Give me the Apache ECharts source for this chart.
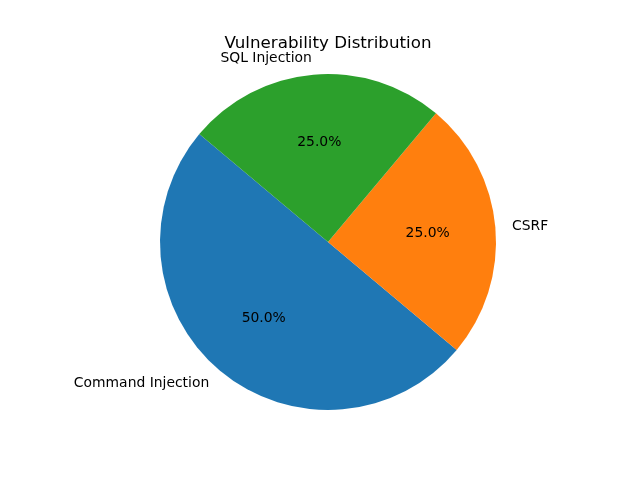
<!DOCTYPE html>
<html>
<head>
<meta charset="utf-8">
<script src="https://cdn.jsdelivr.net/npm/echarts@6/dist/echarts.min.js"></script>
<style>
    html,body{margin:0;padding:0;background:#fff;}
    #chart{width:640px;height:480px;}
</style>
</head>
<body>
<div id="chart"></div>
<script>
    // data
    var categories = ['Command Injection', 'CSRF', 'SQL Injection'];
    var values = [2, 1, 1];
    var colors = ['#1f77b4', '#ff7f0e', '#2ca02c'];

    var cx = 328, cy = 242, r = 168;
    var font = 'DejaVu Sans';

    var pieData = [];
    for (var i = 0; i < categories.length; i++) {
        pieData.push({name: categories[i], value: values[i], itemStyle: {color: colors[i]}});
    }
    // same slices, transparent, only to carry the percent labels at ~0.6r
    var pctData = [];
    for (var j = 0; j < categories.length; j++) {
        pctData.push({name: categories[j], value: values[j]});
    }

    var chart = echarts.init(document.getElementById('chart'));
    chart.setOption({
        animation: false,
        backgroundColor: '#fff',
        title: {
            text: 'Vulnerability Distribution',
            left: cx - 5,
            top: 30,
            textAlign: 'center',
            textStyle: {fontFamily: font, fontSize: 16.7, fontWeight: 'normal', color: '#000'}
        },
        series: [{
            type: 'pie',
            center: [cx, cy],
            radius: [0, r],
            startAngle: 140,
            clockwise: false,
            avoidLabelOverlap: false,
            data: pieData,
            itemStyle: {borderWidth: 0},
            label: {
                show: true,
                position: 'outside',
                distanceToLabelLine: 0,
                fontFamily: font,
                fontSize: 13.9,
                color: '#000'
            },
            labelLine: {show: false, length: r * 0.1, length2: 0},
            emphasis: {disabled: true}
        }, {
            type: 'pie',
            center: [cx, cy],
            radius: [26, r],
            startAngle: 140,
            clockwise: false,
            silent: true,
            data: pctData,
            itemStyle: {color: 'rgba(0,0,0,0)', borderWidth: 0},
            label: {
                show: true,
                position: 'inside',
                fontFamily: font,
                fontSize: 13.9,
                color: '#000',
                formatter: function (p) { return p.percent.toFixed(1) + '%'; }
            },
            labelLine: {show: false},
            emphasis: {disabled: true}
        }]
    });
</script>
</body>
</html>
